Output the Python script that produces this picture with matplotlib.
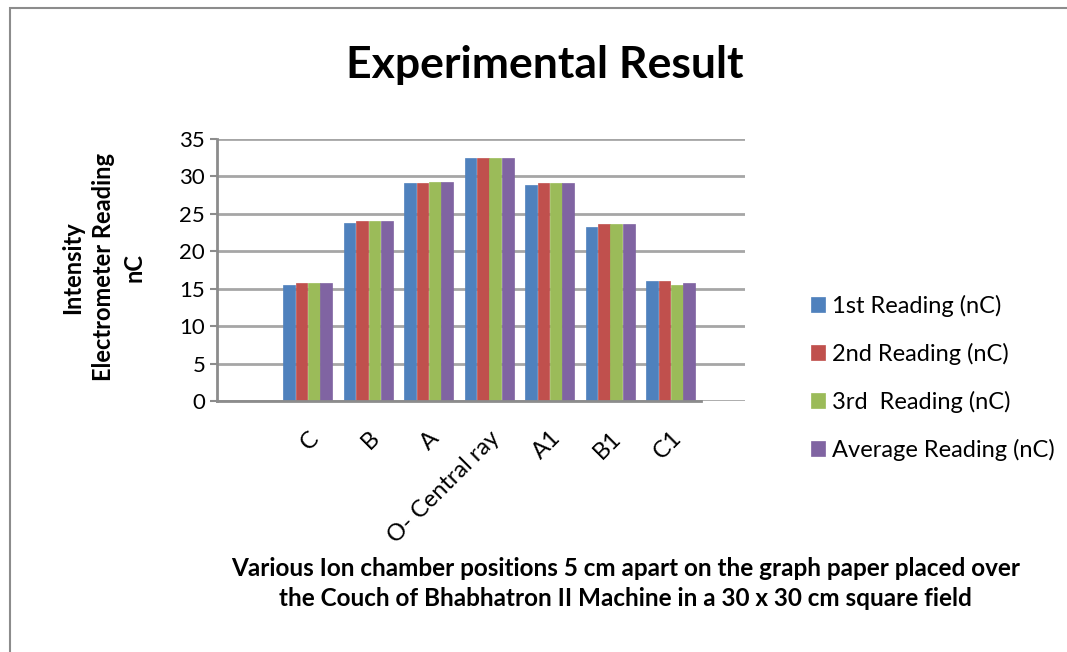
import numpy as np
import matplotlib.pyplot as plt
from matplotlib.patches import Rectangle

plt.rcParams['font.family'] = ['Lato', 'DejaVu Sans']

# data (first slot is an empty category)
categories = ['', 'C', 'B', 'A', 'O- Central ray', 'A1', 'B1', 'C1']
first = [np.nan, 15.5, 23.8, 29.1, 32.5, 28.8, 23.2, 16.0]
second = [np.nan, 15.7, 24.1, 29.1, 32.5, 29.1, 23.6, 16.0]
third = [np.nan, 15.7, 24.0, 29.3, 32.5, 29.1, 23.7, 15.5]
average = [np.nan, 15.7, 24.0, 29.2, 32.5, 29.1, 23.6, 15.7]
series_names = ['1st Reading (nC)', '2nd Reading (nC)', '3rd  Reading (nC)', 'Average Reading (nC)']
colors = ['#4F81BD', '#C0504D', '#9BBB59', '#8064A2']

fig = plt.figure(figsize=(10.67, 6.52), dpi=100)
ax = fig.add_axes([217/1067, 251/652, 528/1067, 262/652])

x = np.arange(len(categories))
w = 0.205
for i, (vals, name, c) in enumerate(zip([first, second, third, average], series_names, colors)):
    ax.bar(x + (i - 1.5) * w, vals, width=w * 0.95, color=c, label=name,
           edgecolor=c, linewidth=0.5, zorder=3)

ax.set_xlim(-0.5, 8.23)
ax.set_ylim(0, 35)
ax.set_yticks(range(0, 36, 5))
ax.grid(axis='y', color='#a6a6a6', linewidth=2, zorder=0)
for s in ['top', 'right', 'bottom']:
    ax.spines[s].set_visible(False)
ax.spines['left'].set_color('#8c8c8c')
ax.spines['left'].set_linewidth(2)
ax.plot([-0.5, 7.5], [0, 0], color='#8c8c8c', linewidth=2, clip_on=False, zorder=4)
ax.tick_params(axis='y', colors='#8c8c8c', labelcolor='black', labelsize=16, length=5, width=1.5)
ax.tick_params(axis='x', length=0, pad=19, labelsize=17)
ax.set_xticks(x)
ax.set_xticklabels(categories, rotation=45, ha='right', rotation_mode='anchor')

fig.text(0.511, 0.9, 'Experimental Result', ha='center', va='center',
         fontsize=32, fontweight='bold')
fig.text(0.097, 0.59, 'Intensity\nElectrometer Reading\nnC', ha='center', va='center',
         rotation=90, fontsize=17, fontweight='bold', linespacing=1.4)
fig.text(0.586, 0.105, 'Various Ion chamber positions 5 cm apart on the graph paper placed over\n'
         'the Couch of Bhabhatron II Machine in a 30 x 30 cm square field',
         ha='center', va='center', fontsize=17.5, fontweight='bold', linespacing=1.35)

fig.legend(loc='center left', bbox_to_anchor=(0.74, 0.42), frameon=False, fontsize=17,
           handlelength=0.6, handleheight=0.6, handletextpad=0.3, labelspacing=1.1)

fig.patches.append(Rectangle((10/1067, -0.1), 1.2, 0.1 + 644/652, transform=fig.transFigure,
                             fill=False, edgecolor='#8c8c8c', linewidth=1.5))

fig.savefig('out.png', dpi=100)
